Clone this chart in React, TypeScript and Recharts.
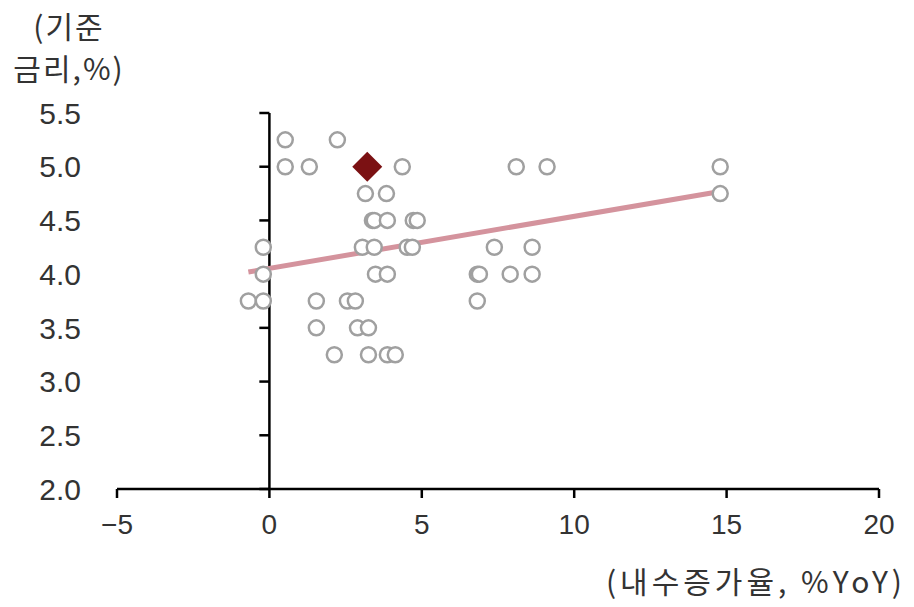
import React from 'react'
import {
  ScatterChart,
  Scatter,
  XAxis,
  YAxis,
  ReferenceLine
} from 'recharts'

// domestic demand growth (%YoY) vs base rate (%)
const growth = [
  0.52, 2.23,
  0.52, 1.31, 4.36, 8.1, 9.11, 14.79,
  3.15, 3.84, 14.79,
  3.38, 3.44, 3.87, 4.72, 4.85,
  -0.2, 3.05, 3.44, 4.52, 4.69, 7.38, 8.62,
  -0.2, 3.48, 3.87, 6.82, 6.89, 7.9, 8.62,
  -0.69, -0.2, 1.54, 2.56, 2.82, 6.82,
  1.54, 2.89, 3.25,
  2.13, 3.25, 3.87, 4.13
]
const rate = [
  5.25, 5.25,
  5.0, 5.0, 5.0, 5.0, 5.0, 5.0,
  4.75, 4.75, 4.75,
  4.5, 4.5, 4.5, 4.5, 4.5,
  4.25, 4.25, 4.25, 4.25, 4.25, 4.25, 4.25,
  4.0, 4.0, 4.0, 4.0, 4.0, 4.0, 4.0,
  3.75, 3.75, 3.75, 3.75, 3.75, 3.75,
  3.5, 3.5, 3.5,
  3.25, 3.25, 3.25, 3.25
]

// latest observation
const currentGrowth = [3.21]
const currentRate = [5.0]

// fitted trend line end points
const trendX = [-0.69, 14.79]
const trendY = [4.02, 4.77]

const xTicks = [-5, 0, 5, 10, 15, 20]
const yTicks = [2.0, 2.5, 3.0, 3.5, 4.0, 4.5, 5.0, 5.5]

const points = growth.map((g, i) => ({ x: g, y: rate[i] }))
const current = currentGrowth.map((g, i) => ({ x: g, y: currentRate[i] }))

const FONT = '"Liberation Sans", "Noto Sans CJK KR", sans-serif'
const KFONT = '"Noto Sans CJK KR", "Liberation Sans", sans-serif'
const TEXT = '#333'

const Ring = (props: any) => (
  <circle cx={props.cx} cy={props.cy} r={7.5} fill="#fff" stroke="#a0a0a0" strokeWidth={2.5} />
)

const Diamond = (props: any) => {
  const { cx, cy } = props
  const d = 15
  return (
    <path
      d={`M${cx},${cy - d} L${cx + d},${cy} L${cx},${cy + d} L${cx - d},${cy} Z`}
      fill="#7b1113"
    />
  )
}

export default function App() {
  return (
    <div style={{ position: 'absolute', left: 0, top: 0, width: 914, height: 607, background: '#fff' }}>
      <div
        style={{
          position: 'absolute',
          left: 0,
          top: 4,
          width: 138,
          textAlign: 'center',
          fontFamily: KFONT,
          fontSize: 30,
          lineHeight: '42px',
          color: TEXT,
          letterSpacing: 2
        }}
      >
        (기준
        <br />
        금리,%)
      </div>
      <div
        style={{
          position: 'absolute',
          right: 8,
          top: 560,
          fontFamily: KFONT,
          fontSize: 30,
          lineHeight: '40px',
          color: TEXT,
          letterSpacing: 4,
          whiteSpace: 'nowrap'
        }}
      >
        (내수증가율, %YoY)
      </div>
      <ScatterChart
        width={914}
        height={607}
        margin={{ top: 113, right: 35, bottom: 0, left: 0 }}
      >
        <XAxis
          type="number"
          dataKey="x"
          domain={[-5, 20]}
          ticks={xTicks}
          interval={0}
          allowDataOverflow
          height={118}
          stroke="#000"
          axisLine={{ stroke: '#000', strokeWidth: 2.5 }}
          tickLine={{ stroke: '#000', strokeWidth: 2.5 }}
          tickSize={9}
          tickMargin={16}
          tick={{ fill: TEXT, fontSize: 28, fontFamily: FONT }}
          tickFormatter={(v: number) => (v < 0 ? `\u2212${Math.abs(v)}` : `${v}`)}
        />
        <YAxis
          type="number"
          dataKey="y"
          domain={[2, 5.5]}
          ticks={yTicks}
          interval={0}
          width={117}
          axisLine={false}
          tickLine={false}
          tickSize={0}
          tickMargin={36}
          tick={{ fill: TEXT, fontSize: 30, fontFamily: FONT }}
          tickFormatter={(v: number) => v.toFixed(1)}
        />
        <ReferenceLine x={0} stroke="#000" strokeWidth={2.5} />
        {yTicks.map((t) => (
          <ReferenceLine
            key={t}
            segment={[{ x: -0.33, y: t }, { x: 0, y: t }]}
            stroke="#000"
            strokeWidth={2.5}
          />
        ))}
        <Scatter data={points} shape={Ring} isAnimationActive={false} />
        <Scatter data={current} shape={Diamond} isAnimationActive={false} />
        <ReferenceLine
          segment={[
            { x: trendX[0], y: trendY[0] },
            { x: trendX[1], y: trendY[1] }
          ]}
          stroke="#d4939d"
          strokeWidth={5}
        />
      </ScatterChart>
    </div>
  )
}
